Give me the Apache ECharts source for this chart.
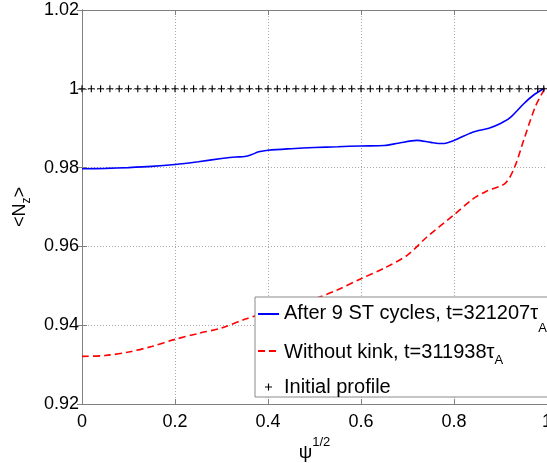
<!DOCTYPE html>
<html>
<head>
<meta charset="utf-8">
<script src="https://cdn.jsdelivr.net/npm/echarts@6/dist/echarts.min.js"></script>
<style>
html,body{margin:0;padding:0;background:#fff;}
#chart{width:547px;height:463px;}
</style>
</head>
<body>
<div id="chart"></div>
<script>
// ---- data ----
var xTicks = [0, 0.2, 0.4, 0.6, 0.8, 1];
var yTicks = [0.92, 0.94, 0.96, 0.98, 1, 1.02];

var afterX = [0, 0.05, 0.1, 0.15, 0.2, 0.25, 0.3, 0.33, 0.35, 0.365, 0.38, 0.4, 0.45, 0.5, 0.55, 0.6, 0.65, 0.68, 0.72, 0.75, 0.775, 0.8, 0.84, 0.875, 0.9, 0.92, 0.95, 0.97, 0.995];
var afterY = [0.9797, 0.9798, 0.9800, 0.9803, 0.9808, 0.9815, 0.9823, 0.9827, 0.9828, 0.9833, 0.9840, 0.9844, 0.9848, 0.9851, 0.9853, 0.9855, 0.9856, 0.9862, 0.9869, 0.9864, 0.9861, 0.9869, 0.9890, 0.9900, 0.9912, 0.9926, 0.9962, 0.9983, 1.0002];

var noKinkX = [0, 0.05, 0.1, 0.15, 0.2, 0.25, 0.3, 0.35, 0.4, 0.45, 0.5, 0.55, 0.6, 0.65, 0.7, 0.74, 0.8, 0.84, 0.87, 0.91, 0.93, 0.95, 0.975, 0.995];
var noKinkY = [0.9321, 0.9323, 0.9332, 0.9346, 0.9364, 0.9379, 0.9393, 0.9415, 0.9433, 0.9450, 0.9467, 0.9490, 0.9518, 0.9545, 0.9578, 0.9622, 0.9680, 0.9720, 0.9740, 0.9760, 0.9800, 0.9870, 0.9955, 1.0000];

var initX = [0, 0.02, 0.04, 0.06, 0.08, 0.1, 0.12, 0.14, 0.16, 0.18, 0.2, 0.22, 0.24, 0.26, 0.28, 0.3, 0.32, 0.34, 0.36, 0.38, 0.4, 0.42, 0.44, 0.46, 0.48, 0.5, 0.52, 0.54, 0.56, 0.58, 0.6, 0.62, 0.64, 0.66, 0.68, 0.7, 0.72, 0.74, 0.76, 0.78, 0.8, 0.82, 0.84, 0.86, 0.88, 0.9, 0.92, 0.94, 0.96, 0.98, 0.993];
var initY = [1, 1, 1, 1, 1, 1, 1, 1, 1, 1, 1, 1, 1, 1, 1, 1, 1, 1, 1, 1, 1, 1, 1, 1, 1, 1, 1, 1, 1, 1, 1, 1, 1, 1, 1, 1, 1, 1, 1, 1, 1, 1, 1, 1, 1, 1, 1, 1, 1, 1, 1];

var seriesNames = ['After 9 ST cycles', 'Without kink', 'Initial profile'];
var legendText = {
  'After 9 ST cycles': '{t1|After 9 ST cycles, t=321207\u03c4}{s1|A}',
  'Without kink': '{t2|Without kink, t=311938\u03c4}{s2|A}',
  'Initial profile': '{u|Initial profile}'
};

function zip(xs, ys) { return xs.map(function (x, i) { return [x, ys[i]]; }); }

var FONT = '"Liberation Sans", Arial, Helvetica, sans-serif';
var LF = 20;
var plusPath = 'path://M4.2,0 H5.8 V4.2 H10 V5.8 H5.8 V10 H4.2 V5.8 H0 V4.2 H4.2 Z';

var chart = echarts.init(document.getElementById('chart'), null, {renderer: 'canvas'});

var axisLine = {show: true, lineStyle: {color: '#808080', width: 1}};
var axisTick = {show: true, inside: true, length: 5, lineStyle: {color: '#808080'}};

chart.setOption({
  animation: false,
  textStyle: {fontFamily: FONT},
  grid: {left: 82, top: 10, right: 0, bottom: 59, show: false, containLabel: false, outerBoundsMode: 'none'},
  legend: {
    orient: 'vertical',
    left: 255,
    top: 297,
    padding: [6, 10, 0, 2],
    backgroundColor: '#fff',
    borderColor: '#8a8a8a',
    borderWidth: 1,
    borderRadius: 0,
    itemWidth: 21,
    itemHeight: 7,
    itemGap: 0,
    data: [
      {name: seriesNames[0], itemStyle: {opacity: 0}},
      {name: seriesNames[1], itemStyle: {opacity: 0}},
      {name: seriesNames[2]}
    ],
    formatter: function (name) { return legendText[name]; },
    textStyle: {
      color: '#000',
      fontFamily: FONT,
      rich: {
        t1: {fontSize: LF, lineHeight: 22, verticalAlign: 'top', fontFamily: FONT, color: '#000'},
        s1: {fontSize: 13, lineHeight: 12, verticalAlign: 'top', padding: [19, 0, 5, 0], fontFamily: FONT, color: '#000'},
        t2: {fontSize: LF, lineHeight: 22, verticalAlign: 'top', padding: [2, 0, 0, 0], fontFamily: FONT, color: '#000'},
        s2: {fontSize: 13, lineHeight: 12, verticalAlign: 'top', padding: [14, 0, 10, 0], fontFamily: FONT, color: '#000'},
        u: {fontSize: LF, lineHeight: 32, fontFamily: FONT, color: '#000'}
      }
    }
  },
  xAxis: [{
    type: 'value', min: 0, max: 1, interval: 0.2, position: 'bottom',
    name: '{p|\u03c8}{q|1/2}',
    nameLocation: 'middle', nameGap: 30,
    nameTextStyle: {
      rich: {
        p: {fontSize: 19, fontFamily: FONT, color: '#000', verticalAlign: 'bottom', lineHeight: 26},
        q: {fontSize: 13, fontFamily: FONT, color: '#000', verticalAlign: 'top', lineHeight: 13}
      }
    },
    axisLine: axisLine, axisTick: axisTick,
    axisLabel: {color: '#000', fontSize: 18, fontFamily: FONT, margin: 9,
      formatter: function (v) { var r = +(+v).toFixed(2); return xTicks.indexOf(r) >= 0 ? String(r) : ''; }},
    splitLine: {show: true, lineStyle: {type: [1, 2], color: '#a8a8a8', width: 1}}
  }, {
    type: 'value', min: 0, max: 1, interval: 0.2, position: 'top',
    axisLine: axisLine, axisTick: axisTick,
    axisLabel: {show: false}, splitLine: {show: false}
  }],
  yAxis: [{
    type: 'value', min: 0.92, max: 1.02, interval: 0.02, position: 'left',
    name: '{a|<N}{b|z}{a|>}',
    nameLocation: 'middle', nameRotate: 90, nameGap: 43,
    nameTextStyle: {
      rich: {
        a: {fontSize: 18, fontFamily: FONT, color: '#000', lineHeight: 26, verticalAlign: 'middle'},
        b: {fontSize: 12, fontFamily: FONT, color: '#000', lineHeight: 12, verticalAlign: 'bottom'}
      }
    },
    axisLine: axisLine, axisTick: axisTick,
    axisLabel: {color: '#000', fontSize: 18, fontFamily: FONT, margin: 3,
      formatter: function (v) { var r = +(+v).toFixed(2); return yTicks.indexOf(r) >= 0 ? String(r) : ''; }},
    splitLine: {show: true, lineStyle: {type: [1, 2], color: '#a8a8a8', width: 1}}
  }, {
    type: 'value', min: 0.92, max: 1.02, interval: 0.02, position: 'right',
    axisLine: axisLine, axisTick: axisTick,
    axisLabel: {show: false}, splitLine: {show: false}
  }],
  series: [{
    name: seriesNames[0], type: 'line', data: zip(afterX, afterY),
    smooth: 0.3, symbol: 'none', z: 3,
    lineStyle: {color: '#0000ff', width: 1.6},
    itemStyle: {color: '#0000ff'}
  }, {
    name: seriesNames[1], type: 'line', data: zip(noKinkX, noKinkY),
    smooth: 0.3, symbol: 'none', z: 3,
    lineStyle: {color: '#ff0000', width: 1.6, type: [7, 4]},
    itemStyle: {color: '#ff0000'}
  }, {
    name: seriesNames[2], type: 'scatter', data: zip(initX, initY),
    symbol: plusPath, symbolSize: 7, z: 4,
    itemStyle: {color: '#000', opacity: 1}
  }]
});
</script>
</body>
</html>
